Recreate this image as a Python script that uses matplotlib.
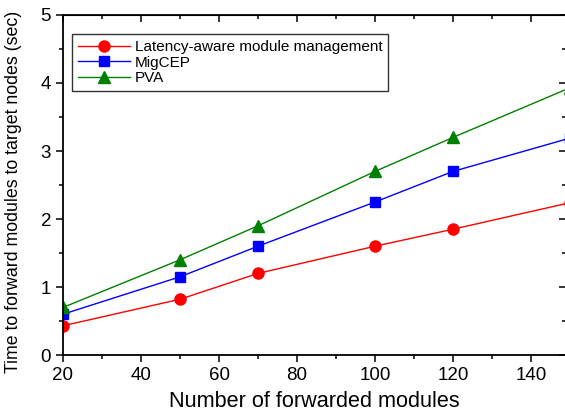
import matplotlib
matplotlib.use("Agg")
import matplotlib.pyplot as plt
import matplotlib.ticker as ticker

plt.rcParams["font.family"] = ["Liberation Sans", "DejaVu Sans"]

# Values. The last point (150) sits just past
# the right edge of the axes, so only the line reaching it is visible.
modules = [20, 50, 70, 100, 120, 150]
latencyAware = [0.43, 0.82, 1.20, 1.60, 1.85, 2.24]
migCEP = [0.60, 1.15, 1.60, 2.25, 2.70, 3.19]
pva = [0.70, 1.40, 1.90, 2.70, 3.20, 3.93]

seriesLabels = ["Latency-aware module management", "MigCEP", "PVA"]

fig = plt.figure(figsize=(5.65, 4.13), dpi=100)
ax = fig.add_axes([0.1115, 0.1404, 0.8905, 0.8233])

ax.plot(modules, latencyAware, color="red", marker="o", markersize=8,
        linewidth=1, label=seriesLabels[0])
ax.plot(modules, migCEP, color="blue", marker="s", markersize=7.3,
        linewidth=1, label=seriesLabels[1])
ax.plot(modules, pva, color="green", marker="^", markersize=9,
        linewidth=1, label=seriesLabels[2])

ax.set_xlim(20, 149)
ax.set_ylim(0, 5)

ax.xaxis.set_major_locator(ticker.MultipleLocator(20))
ax.xaxis.set_minor_locator(ticker.MultipleLocator(10))
ax.yaxis.set_major_locator(ticker.MultipleLocator(1))
ax.yaxis.set_minor_locator(ticker.MultipleLocator(0.5))

for s in ax.spines.values():
    s.set_linewidth(1.3)

ax.tick_params(axis="both", which="both", direction="out", labelsize=13.5,
               width=1.1)
ax.tick_params(which="major", length=5)
ax.tick_params(which="minor", length=3)

# Mirrored ticks on the top and right spines point inward.
top = ax.secondary_xaxis("top")
top.xaxis.set_major_locator(ticker.MultipleLocator(20))
top.xaxis.set_minor_locator(ticker.MultipleLocator(10))
top.tick_params(which="both", direction="in", labeltop=False, width=1.1)
top.tick_params(which="major", length=5)
top.tick_params(which="minor", length=3)
right = ax.secondary_yaxis("right")
right.yaxis.set_major_locator(ticker.MultipleLocator(1))
right.yaxis.set_minor_locator(ticker.MultipleLocator(0.5))
right.tick_params(which="both", direction="in", labelright=False, width=1.1)
right.tick_params(which="major", length=5)
right.tick_params(which="minor", length=3)

ax.set_xlabel("Number of forwarded modules", fontsize=15.6, labelpad=5)
ax.set_ylabel("Time to forward modules to target nodes (sec)", fontsize=12.8,
              labelpad=5)
ax.yaxis.set_label_coords(-0.082, 0.48)

leg = ax.legend(loc="upper left", bbox_to_anchor=(0.018, 0.944),
                borderaxespad=0, fontsize=11, frameon=True, fancybox=False,
                edgecolor="black", borderpad=0.4, labelspacing=0.1,
                handlelength=3.4, handletextpad=0.3)
leg.get_frame().set_linewidth(1.0)

fig.savefig("out.png", dpi=100)
